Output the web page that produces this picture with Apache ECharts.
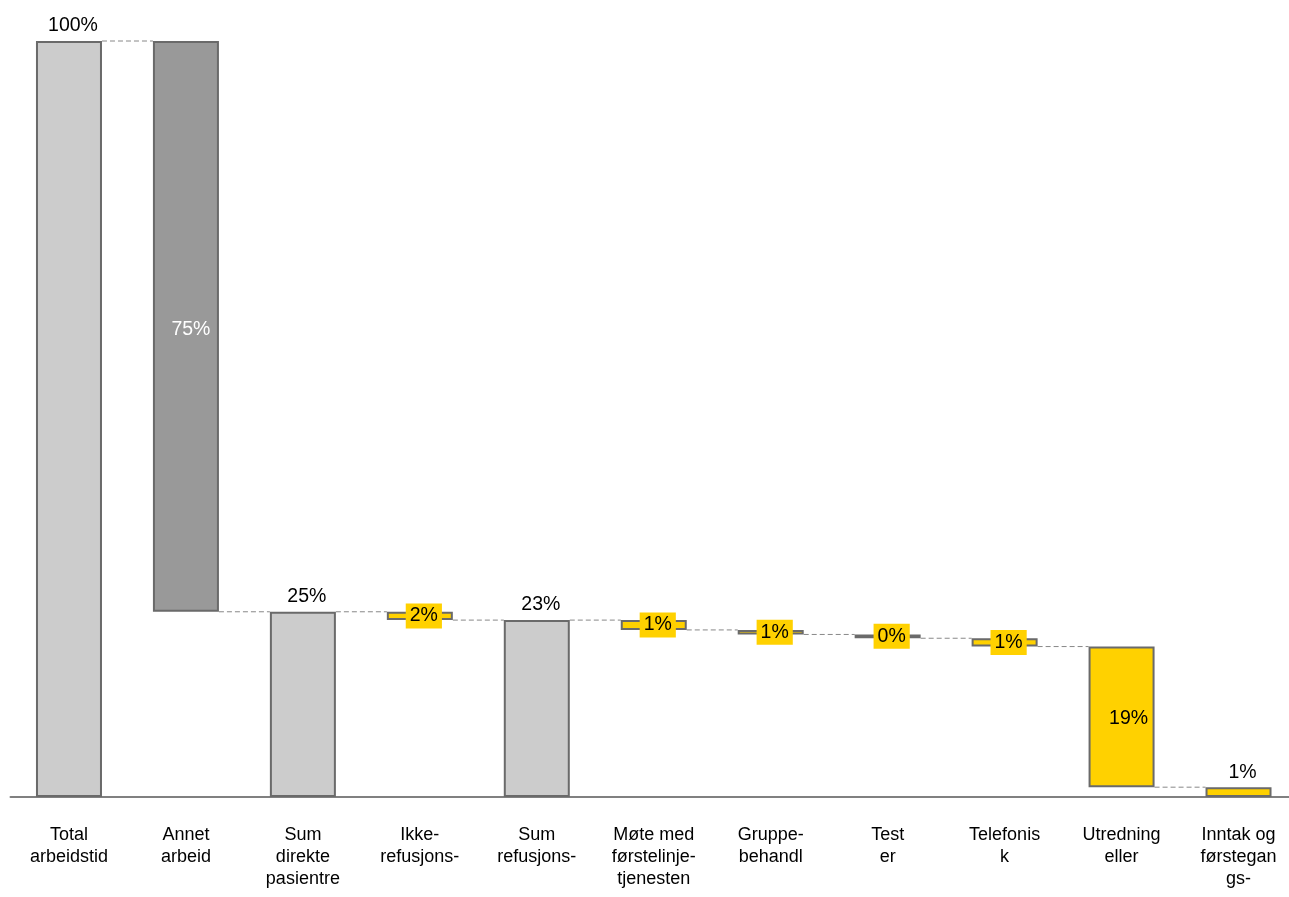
<!DOCTYPE html>
<html>
<head>
<meta charset="utf-8">
<script src="https://cdn.jsdelivr.net/npm/echarts@6/dist/echarts.min.js"></script>
<style>
  html, body { margin: 0; padding: 0; background: #fff; overflow: hidden; }
  /* litt bredere enn vinduet: siste kategori går ut over høyre kant som i originalen */
  #chart { width: 1297px; height: 897px; }
</style>
</head>
<body>
<div id="chart"></div>
<script>
// kategorier (akseetiketter slik de vises)
const categories = [
  'Total\narbeidstid', 'Annet\narbeid', 'Sum\ndirekte\npasientre', 'Ikke-\nrefusjons-',
  'Sum\nrefusjons-', 'Møte med\nførstelinje-\ntjenesten', 'Gruppe-\nbehandl', 'Test\ner',
  'Telefonis\nk', 'Utredning\neller', 'Inntak og\nførstegan\ngs-'
];
// nedre og øvre kant av hver stolpe (% av total arbeidstid)
const barLow  = [0, 24.5, 0, 23.4, 0, 22.1, 21.5, 21.0, 19.9, 1.3, 0];
const barHigh = [100, 100, 24.5, 24.5, 23.4, 23.4, 22.1, 21.5, 21.0, 19.9, 1.3];
// type: total / annet / delta
const kinds = ['total', 'other', 'total', 'delta', 'total', 'delta', 'delta', 'delta', 'delta', 'delta', 'delta'];
const valueLabels = ['100%', '75%', '25%', '2%', '23%', '1%', '1%', '0%', '1%', '19%', '1%'];

const BAR_W = 66;
const FONT = '"Liberation Sans", Arial, sans-serif';
const YELLOW = '#FFD100';

const chart = echarts.init(document.getElementById('chart'));

// etikettstil per stolpe
function labelFor(i) {
  const base = { show: true, formatter: valueLabels[i], fontFamily: FONT, fontSize: 19.5, color: '#000', offset: [4, 0] };
  if (kinds[i] === 'total' || i === 10) return Object.assign(base, { position: 'top', distance: 5 });
  if (kinds[i] === 'other') return Object.assign(base, { position: 'inside', color: '#fff', offset: [5, 3] });
  if (i === 9) return Object.assign(base, { position: 'inside', offset: [7, 2] });
  return Object.assign(base, { position: 'inside', backgroundColor: YELLOW, padding: [3, 4, 2, 4] });
}

function colorFor(i) {
  if (kinds[i] === 'total') return '#CCCCCC';
  if (kinds[i] === 'other') return '#999999';
  if (valueLabels[i] === '0%') return '#666666';
  return YELLOW;
}

const valueData = barHigh.map((h, i) => ({
  value: +(h - barLow[i]).toFixed(2),
  itemStyle: { color: colorFor(i) },
  label: labelFor(i)
}));

// nivå for stiplet forbindelseslinje etter hver stolpe
const connectors = [];
for (let i = 0; i < categories.length - 1; i++) {
  const lvl = kinds[i] === 'total' ? barHigh[i] : barLow[i];
  connectors.push([i, lvl]);
}

const option = {
  animation: false,
  grid: { left: 10.5, right: 0, top: 41, bottom: 100, containLabel: false },
  xAxis: {
    type: 'category',
    data: categories,
    axisLine: { lineStyle: { color: '#808080', width: 2 } },
    axisTick: { show: false },
    axisLabel: {
      interval: 0,
      margin: 27,
      fontFamily: FONT,
      fontSize: 18,
      lineHeight: 22,
      color: '#000'
    }
  },
  yAxis: { type: 'value', min: 0, max: 100, show: false, splitLine: { show: false } },
  series: [
    {
      name: 'base',
      type: 'bar',
      stack: 'w',
      barWidth: BAR_W,
      silent: true,
      itemStyle: { color: 'transparent' },
      data: barLow
    },
    {
      name: 'verdi',
      type: 'bar',
      stack: 'w',
      barWidth: BAR_W,
      itemStyle: { borderColor: '#6A6A6A', borderWidth: 2 },
      data: valueData
    },
    {
      name: 'linjer',
      type: 'custom',
      silent: true,
      z: 1,
      data: connectors,
      renderItem(params, api) {
        const i = api.value(0);
        const lvl = api.value(1);
        const p0 = api.coord([i, lvl]);
        const p1 = api.coord([i + 1, lvl]);
        return {
          type: 'line',
          shape: { x1: p0[0] + BAR_W / 2, y1: p0[1], x2: p1[0] - BAR_W / 2, y2: p1[1] },
          style: { stroke: '#888', lineWidth: 1, lineDash: [5, 3] }
        };
      }
    }
  ]
};

chart.setOption(option);
</script>
</body>
</html>
